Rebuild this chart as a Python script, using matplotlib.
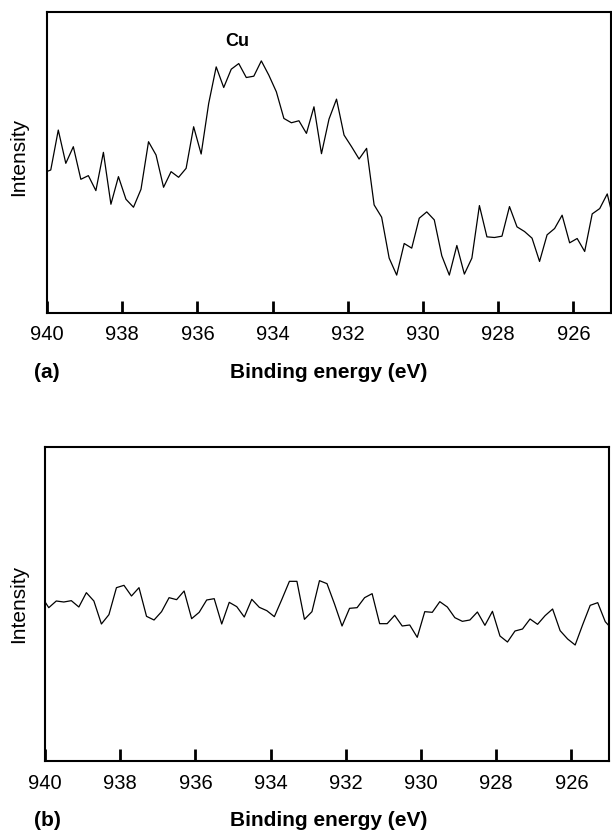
import numpy as np
import matplotlib
matplotlib.use('Agg')
import matplotlib.pyplot as plt

plt.rcParams['font.family'] = ['Liberation Sans', 'DejaVu Sans']

# binding energy grid, spectra sampled every 0.2 eV (940.1 ... 924.9)
energy = np.linspace(940.1, 924.9, 77)

# (a) spectrum with Cu 2p signal (arbitrary intensity units)
intensity_a = [421, 430, 550, 450, 500, 402, 413, 368, 483, 327,
               410, 342, 318, 372, 515, 475, 378, 425, 408, 435,
               560, 478, 630, 740, 678, 733, 750, 708, 712, 758,
               715, 665, 585, 572, 578, 540, 620, 479, 583, 643,
               535, 500, 463, 495, 325, 288, 165, 114, 209, 195,
               285, 304, 280, 172, 114, 203, 117, 165, 323, 229,
               227, 231, 320, 259, 245, 225, 155, 235, 254, 294,
               211, 224, 185, 298, 314, 358, 265]

# (b) spectrum, no Cu peak
intensity_b = [495, 460, 480, 477, 481, 462, 505, 480, 411, 439,
               520, 527, 495, 520, 434, 423, 448, 490, 484, 510,
               427, 446, 483, 487, 411, 476, 463, 432, 485, 461,
               451, 433, 485, 539, 539, 425, 448, 541, 532, 471,
               405, 458, 460, 490, 502, 412, 412, 437, 405, 408,
               371, 448, 446, 478, 462, 430, 419, 423, 447, 407,
               449, 375, 357, 390, 396, 426, 410, 436, 456, 391,
               366, 348, 409, 467, 475, 418, 393]

xticks = [940, 938, 936, 934, 932, 930, 928, 926]

W, H = 612, 830
fig = plt.figure(figsize=(W / 100, H / 100), dpi=100)


def px_box(left, top, right, bottom):
    return [left / W, 1 - bottom / H, (right - left) / W, (bottom - top) / H]


def style_axes(ax, ymax):
    ax.set_xlim(940, 925)
    ax.set_ylim(0, ymax)
    ax.set_xticks(xticks)
    ax.set_yticks([])
    ax.tick_params(axis='x', direction='in', length=9, width=2,
                   labelsize=14.5, pad=9, top=False)
    for sp in ax.spines.values():
        sp.set_linewidth(1.5)


def labels(ax_bottom, tag, ycenter):
    fig.text(47 / W, 1 - (ax_bottom + 59) / H, tag, ha='center', va='center',
             fontsize=15, fontweight='bold')
    fig.text(329 / W, 1 - (ax_bottom + 65) / H, 'Binding energy (eV)',
             ha='center', va='baseline', fontsize=15, fontweight='bold')
    fig.text(19 / W, 1 - ycenter / H, 'Intensity', rotation=90,
             ha='center', va='center', fontsize=15)


# panel (a)
ax1 = fig.add_axes(px_box(47, 12, 611, 313))
ax1.plot(energy, intensity_a, color='black', linewidth=0.9)
style_axes(ax1, 905)
ax1.text(934.95, 815, 'Cu', ha='center', va='center', fontsize=13,
         fontweight='bold')
labels(313, '(a)', 157)

# panel (b)
ax2 = fig.add_axes(px_box(45, 447, 609, 761))
ax2.plot(energy, intensity_b, color='black', linewidth=0.9)
style_axes(ax2, 942)
labels(761, '(b)', 604)

fig.savefig('out.png', dpi=100)
